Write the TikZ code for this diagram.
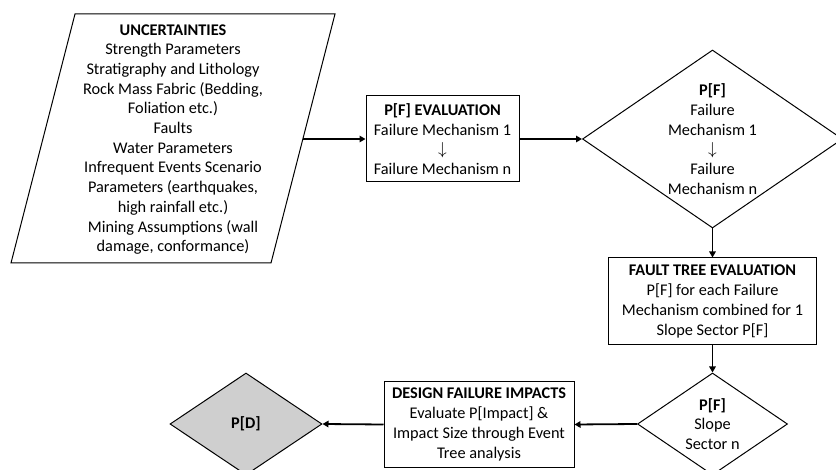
\documentclass[tikz,border=0pt]{standalone}
\usepackage{fontspec}
\setmainfont{Carlito}
\usetikzlibrary{arrows.meta}
\usetikzlibrary{shapes.geometric}

\tikzset{
    box/.style={draw, line width=1pt, align=center, inner sep=0pt},
    decision/.style={draw, diamond, line width=1pt, align=center, inner sep=0pt},
    flow/.style={line width=1.8pt, -{Triangle[length=6pt,width=6.5pt]}},
}

\begin{document}
\begin{tikzpicture}[x=1pt,y=-1pt,font=\fontsize{16.3}{19.7}\selectfont]
        \useasboundingbox (0,0) rectangle (836,470);
        % input parallelogram
        \draw[line width=1pt] (75,14) -- (335,14) -- (271,263) -- (11,263) -- cycle;
        \coordinate (uncout) at (303,139);
        \node[align=center] (unc) at (173,139.5) {\textbf{UNCERTAINTIES}\\Strength Parameters\\Stratigraphy and Lithology\\Rock Mass Fabric (Bedding,\\Foliation etc.)\\Faults\\Water Parameters\\Infrequent Events Scenario\\Parameters (earthquakes,\\high rainfall etc.)\\Mining Assumptions (wall\\damage, conformance)};

        \node[box, minimum width=153pt, minimum height=86pt] (eval) at (442.5,139) {\textbf{P[F] EVALUATION}\\Failure Mechanism 1\\$\downarrow$\\Failure Mechanism n};
        \node[decision, minimum width=260pt, minimum height=178pt, aspect=1.46] (pfm) at (712.5,139) {\textbf{P[F]}\\Failure\\Mechanism 1\\$\downarrow$\\Failure\\Mechanism n};
        \node[box, minimum width=208pt, minimum height=87pt] (fault) at (712.5,301.5) {\textbf{FAULT TREE EVALUATION}\\P[F] for each Failure\\Mechanism combined for 1\\Slope Sector P[F]};
        \node[decision, minimum width=150pt, minimum height=102pt, aspect=1.47] (pfs) at (712.5,424) {\textbf{P[F]}\\Slope\\Sector n};
        \node[box, minimum width=190pt, minimum height=85pt] (impact) at (479,424.5) {\textbf{DESIGN FAILURE IMPACTS}\\Evaluate P[Impact] \&\\Impact Size through Event\\Tree analysis};
        \node[decision, fill=black!19, minimum width=152pt, minimum height=102pt, aspect=1.49] (pd) at (246,424) {\textbf{P[D]}};

        \draw[flow] (uncout) -- (eval.west);
        \draw[flow] (eval.east) -- (pfm.west);
        \draw[flow] (pfm.south) -- (fault.north);
        \draw[flow] (fault.south) -- (pfs.north);
        \draw[flow] (pfs.west) -- (impact.east);
        \draw[flow] (impact.west) -- (pd.east);
    \end{tikzpicture}
\end{document}
